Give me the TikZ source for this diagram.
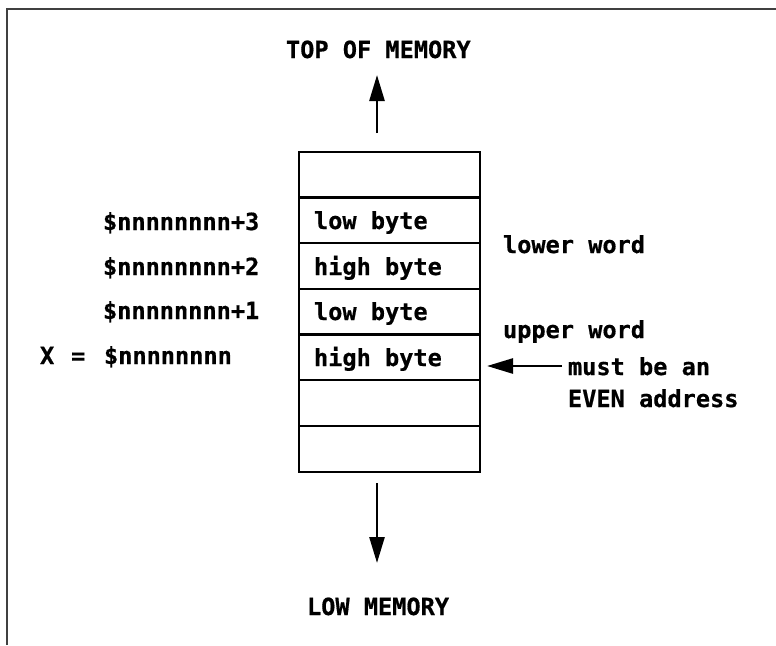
\documentclass[tikz,border=0pt]{standalone}
\usepackage{fontspec}
\setmonofont[BoldFeatures={FakeBold=0.6}]{DejaVu Sans Mono}
\usetikzlibrary{arrows.meta}
\begin{document}
\begin{tikzpicture}[x=1pt,y=-1pt,
  every node/.style={inner sep=0pt,outer sep=0pt,
    font=\ttfamily\bfseries\fontsize{23.6}{28}\selectfont},
  cellbox/.style={draw,line width=2.2pt,minimum width=181pt,minimum height=45.7pt},
  lbl/.style={anchor=base west},
  ptr/.style={line width=2.6pt,-{Triangle[length=26pt,width=15pt]}},
  frameline/.style={draw=black!75,line width=1.8pt}]
  % page extent
  \useasboundingbox (0,0) rectangle (776,645);
  % frame
  \draw[frameline] (7,645) -- (7,9) -- (776,9);

  % memory cells, top to bottom
  \node[cellbox] (c1) at (389.5,174.6) {};
  \node[cellbox] (c2) at (389.5,220.3) {};
  \node[cellbox] (c3) at (389.5,266.0) {};
  \node[cellbox] (c4) at (389.5,311.7) {};
  \node[cellbox] (c5) at (389.5,357.4) {};
  \node[cellbox] (c6) at (389.5,403.1) {};
  \node[cellbox] (c7) at (389.5,448.8) {};

  % cell contents
  \node[lbl] (b3) at (314,229) {low byte};
  \node[lbl] (b2) at (314,275) {high byte};
  \node[lbl] (b1) at (314,320) {low byte};
  \node[lbl] (b0) at (314,366) {high byte};

  % addresses
  \node[lbl] (a3) at (103,230) {\$nnnnnnnn+3};
  \node[lbl] (a2) at (103,275) {\$nnnnnnnn+2};
  \node[lbl] (a1) at (103,319) {\$nnnnnnnn+1};
  \node[lbl] (a0) at (104,364) {\$nnnnnnnn};
  \node[lbl] (xeq) at (40,364) {X\hspace{17pt}=};

  % word labels
  \node[lbl] (lw) at (503,253) {lower word};
  \node[lbl] (uw) at (503,338) {upper word};
  \node[lbl] (ev1) at (568,375) {must be an};
  \node[lbl] (ev2) at (568,407) {EVEN address};

  % memory direction
  \node[lbl] (top) at (286,58) {TOP OF MEMORY};
  \node[lbl] (low) at (307,615) {LOW MEMORY};

  \coordinate (upfrom) at (377,133);
  \coordinate (upto) at (377,75);
  \draw[ptr] (upfrom) -- (upto);

  \coordinate (downfrom) at (377,483);
  \coordinate (downto) at (377,563);
  \draw[ptr] (downfrom) -- (downto);

  \coordinate (evenfrom) at (562,366);
  \draw[ptr,shorten >=7pt] (evenfrom) -- (evenfrom -| c5.east);
\end{tikzpicture}
\end{document}
